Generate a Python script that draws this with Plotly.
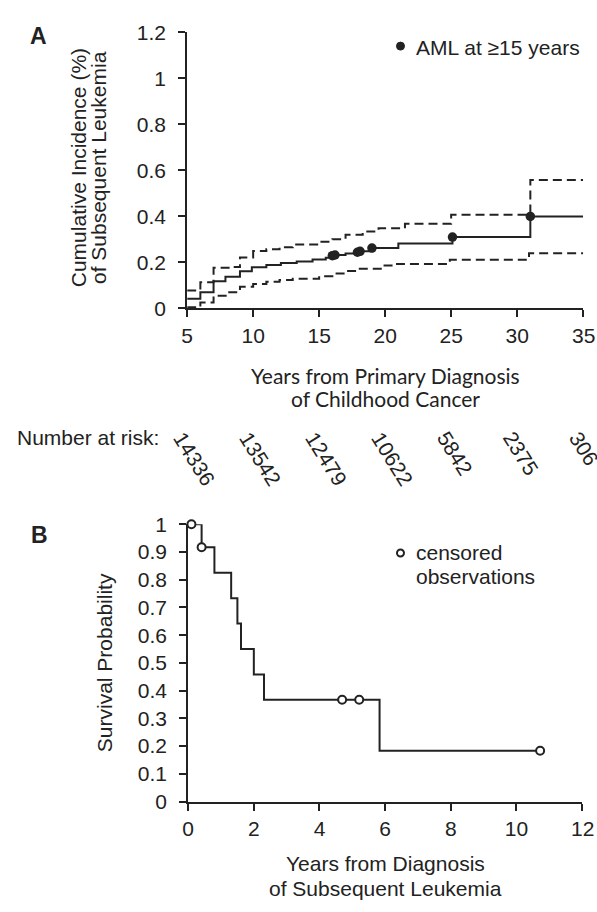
import math
import plotly.graph_objects as go

# ---------------- Data: Panel A (cumulative incidence) ----------------
ci_time = [5, 6, 7, 7.9, 9, 9.9, 11, 12.1, 13.3, 14.5, 15.5, 16.0, 16.2, 17, 17.9, 18.1, 19, 21, 25.1, 31, 35]
ci_val = [0.042, 0.07, 0.118, 0.137, 0.161, 0.179, 0.189, 0.197, 0.204, 0.212, 0.22, 0.229, 0.232, 0.238, 0.244,
          0.248, 0.262, 0.282, 0.31, 0.40, 0.40]
upper_time = [5, 6, 7, 8.5, 9, 10, 11, 12, 13, 15, 16, 17, 18.3, 19.5, 21.5, 25, 31, 35]
upper_val = [0.078, 0.113, 0.176, 0.18, 0.221, 0.249, 0.257, 0.266, 0.278, 0.29, 0.30, 0.32, 0.334, 0.348, 0.368,
             0.407, 0.558, 0.558]
lower_time = [5, 6, 7, 8, 9, 10, 11, 12, 13, 15, 16, 17, 18, 19.8, 20.9, 24.9, 30.9, 35]
lower_val = [0.005, 0.025, 0.055, 0.07, 0.094, 0.106, 0.116, 0.123, 0.129, 0.14, 0.151, 0.162, 0.172, 0.186, 0.193,
             0.211, 0.24, 0.24]
aml_time = [16.0, 16.2, 17.9, 18.1, 19.0, 25.1, 31.0]
aml_val = [0.229, 0.232, 0.244, 0.248, 0.262, 0.31, 0.40]

risk_years = [5, 10, 15, 20, 25, 30, 35]
risk_numbers = ["14336", "13542", "12479", "10622", "5842", "2375", "306"]

# ---------------- Data: Panel B (survival) ----------------
km_time = [0, 0.41, 0.80, 1.31, 1.50, 1.61, 2.0, 2.31, 5.83, 10.72]
km_val = [1.0, 0.917, 0.825, 0.733, 0.642, 0.55, 0.458, 0.367, 0.183, 0.183]
cens_time = [0.1, 0.41, 4.69, 5.21, 10.72]
cens_val = [1.0, 0.917, 0.367, 0.367, 0.183]
b_years = [0, 2, 4, 6, 8, 10, 12]

# ---------------- Layout helpers ----------------
W, H = 597, 912
INK = "#222222"
SANS = "Liberation Sans, Arial, sans-serif"
FS = 21


def px(x):
    return x / W


def py(y):
    return 1 - y / H


fig = go.Figure()

dash = "9px,5px"
fig.add_trace(go.Scatter(x=lower_time, y=lower_val, mode="lines", line=dict(color=INK, width=2, dash=dash, shape="hv"),
                         xaxis="x", yaxis="y", showlegend=False, hoverinfo="skip"))
fig.add_trace(go.Scatter(x=upper_time, y=upper_val, mode="lines", line=dict(color=INK, width=2, dash=dash, shape="hv"),
                         xaxis="x", yaxis="y", showlegend=False, hoverinfo="skip"))
fig.add_trace(go.Scatter(x=ci_time, y=ci_val, mode="lines", line=dict(color=INK, width=2, shape="hv"),
                         xaxis="x", yaxis="y", showlegend=False))
fig.add_trace(go.Scatter(x=aml_time, y=aml_val, mode="markers", marker=dict(color=INK, size=9.5),
                         xaxis="x", yaxis="y", showlegend=False, cliponaxis=False))

fig.add_trace(go.Scatter(x=km_time, y=km_val, mode="lines", line=dict(color=INK, width=2, shape="hv"),
                         xaxis="x2", yaxis="y2", showlegend=False))
fig.add_trace(go.Scatter(x=cens_time, y=cens_val, mode="markers",
                         marker=dict(color="white", size=8, line=dict(color=INK, width=2)),
                         xaxis="x2", yaxis="y2", showlegend=False, cliponaxis=False))

axis_common = dict(showline=True, linecolor=INK, linewidth=2, ticks="outside", ticklen=7, tickwidth=2,
                   tickcolor=INK, showgrid=False, zeroline=False,
                   tickfont=dict(family=SANS, size=FS, color=INK))

# last x tick labels are drawn as annotations (they sit at the page's right edge)
fig.update_layout(
    width=W, height=H, margin=dict(l=0, r=0, t=0, b=0),
    paper_bgcolor="white", plot_bgcolor="white",
    xaxis=dict(domain=[px(183), px(583)], range=[5, 35], tickvals=risk_years,
               ticktext=[str(v) for v in risk_years[:-1]] + [""], anchor="y", **axis_common),
    yaxis=dict(domain=[py(304), py(21)], range=[0, 1.2], dtick=0.2, anchor="x", ticklabelstandoff=8, **axis_common),
    xaxis2=dict(domain=[px(184), px(582)], range=[0, 12], tickvals=b_years,
                ticktext=[str(v) for v in b_years[:-1]] + [""], anchor="y2", **axis_common),
    yaxis2=dict(domain=[py(810), py(525.5)], range=[0, 1], dtick=0.1, anchor="x2", ticklabelstandoff=8,
                **axis_common),
)

ann = []


def txt(text, x, y, size=FS, family=SANS, xanchor="center", yanchor="middle", angle=0, xref="paper",
        xshift=0, yshift=0):
    ann.append(dict(text=text, x=x, y=y, xref=xref, yref="paper", showarrow=False, xanchor=xanchor,
                    yanchor=yanchor, textangle=angle, xshift=xshift, yshift=yshift,
                    font=dict(family=family, size=size, color=INK)))


# last tick labels
txt(str(risk_years[-1]), risk_years[-1], py(332), xref="x")
ann[-1]["xref"] = "x"
txt(str(b_years[-1]), b_years[-1], py(838), xref="x2")

# Panel letters
txt("<b>A</b>", px(33), py(25), size=23)
txt("<b>B</b>", px(34), py(537), size=23)

# Axis titles
txt("Cumulative Incidence (%)", px(74), py(160), angle=-90)
txt("of Subsequent Leukemia", px(94), py(160), angle=-90)
txt("Survival Probability", px(99), py(668), angle=-90)
CAL = "Lato, Carlito, sans-serif"
txt("Years from Primary Diagnosis", px(383), py(373), family=CAL)
txt("of Childhood Cancer", px(383), py(397), family=CAL)
txt("Years from Diagnosis", px(383), py(874))
txt("of Subsequent Leukemia", px(383), py(899))

# Number at risk
txt("Number at risk:", px(9), py(437), xanchor="left")
theta = math.radians(58)
for yr, num in zip(risk_years, risk_numbers):
    half = len(num) * 0.556 * FS / 2
    txt(num, yr, py(433), xref="x", angle=58,
        xshift=-8.7 + half * math.cos(theta), yshift=-half * math.sin(theta))

# Legends
txt("AML at \u226515 years", px(412), py(36), xanchor="left")
txt("censored", px(412), py(554), xanchor="left")
txt("observations", px(412), py(579), xanchor="left")

shapes = [
    dict(type="circle", xref="paper", yref="paper", xsizemode="pixel", ysizemode="pixel",
         xanchor=px(398.5), yanchor=py(35), x0=-4, x1=4, y0=-4, y1=4,
         fillcolor=INK, line=dict(color=INK, width=1)),
    dict(type="circle", xref="paper", yref="paper", xsizemode="pixel", ysizemode="pixel",
         xanchor=px(398.5), yanchor=py(555), x0=-3.5, x1=3.5, y0=-3.5, y1=3.5,
         fillcolor="white", line=dict(color=INK, width=2)),
]

fig.update_layout(annotations=ann, shapes=shapes)

page_fix = ("document.body.style.margin='0';document.body.style.overflow='hidden';"
            "document.documentElement.style.overflow='hidden';")
fig.write_html("out.html", post_script=page_fix, config={"displayModeBar": False})
